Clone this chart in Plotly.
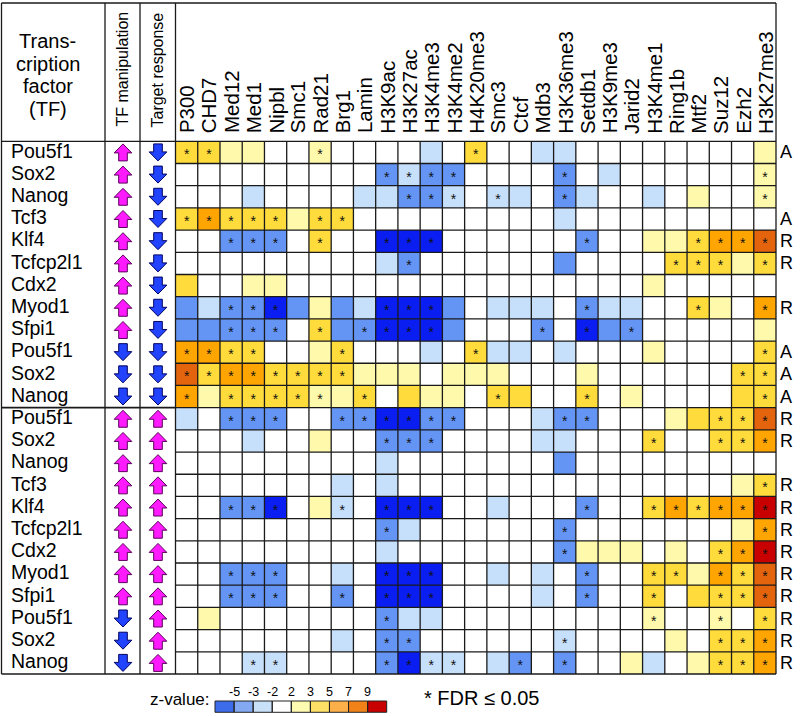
import plotly.graph_objects as go

W, H = 800, 716
FONT = "Liberation Sans, Arial, sans-serif"

# ---------------- data ----------------
columns = ["P300", "CHD7", "Med12", "Med1", "Nipbl", "Smc1", "Rad21", "Brg1", "Lamin",
           "H3K9ac", "H3K27ac", "H3K4me3", "H3K4me2", "H4K20me3", "Smc3", "Ctcf", "Mdb3",
           "H3K36me3", "Setdb1", "H3K9me3", "Jarid2", "H3K4me1", "Ring1b", "Mtf2",
           "Suz12", "Ezh2", "H3K27me3"]

tf_names = ["Pou5f1", "Sox2", "Nanog", "Tcf3", "Klf4", "Tcfcp2l1", "Cdx2", "Myod1", "Sfpi1",
            "Pou5f1", "Sox2", "Nanog",
            "Pou5f1", "Sox2", "Nanog", "Tcf3", "Klf4", "Tcfcp2l1", "Cdx2", "Myod1", "Sfpi1",
            "Pou5f1", "Sox2", "Nanog"]

tf_manipulation = ["up", "up", "up", "up", "up", "up", "up", "up", "up",
                   "down", "down", "down",
                   "up", "up", "up", "up", "up", "up", "up", "up", "up",
                   "down", "down", "down"]

target_response = ["down"] * 12 + ["up"] * 12

row_class = ["A", "", "", "A", "R", "R", "", "R", "", "A", "A", "A",
             "R", "R", "", "R", "R", "R", "R", "R", "R", "R", "R", "R"]

# z-value bin of each cell: -3 (<=-5), -2, -1, 0 (white), 1, 2, 3, 4, 5 (>=9)
z_level = [
    [2, 2, 1, 1, 0, 0, 1, 0, 0, 0, 0, -1, 0, 2, 0, 0, -1, -1, 0, 0, 0, 0, 0, 0, 0, 0, 1],
    [0, 0, 0, 0, 0, 0, 0, 0, 0, -2, -1, -2, -2, 0, 0, 0, 0, -2, 0, -1, 0, 0, 0, 0, 0, 0, 1],
    [0, 0, 0, -1, 0, 0, 0, 0, -1, -1, -2, -2, -1, 0, -1, -1, 0, -2, -1, 0, 0, -1, 0, 1, 0, 0, 1],
    [2, 3, 2, 2, 2, 1, 2, 2, 0, 0, 0, 0, 0, 0, 0, 0, 0, -1, 0, 0, 0, 0, 0, 0, 0, 0, 0],
    [0, 0, -2, -2, -2, 0, 2, 0, 0, -3, -3, -3, 0, 0, 0, 0, 0, 0, -2, 0, 0, 1, 1, 2, 3, 3, 4],
    [0, 0, 0, 0, 0, 0, 0, 0, 0, -1, -2, 0, 0, 0, 0, 0, 0, -2, 0, 0, 0, 0, 2, 2, 2, 1, 2],
    [2, 0, 0, 1, 1, 0, 0, 0, 0, 0, 0, 0, 0, 0, 0, 0, 0, 0, 0, 0, 0, 1, 0, 0, 0, 0, 0],
    [-2, -1, -2, -2, -3, -2, 1, -2, -1, -3, -3, -3, -2, 0, -1, -1, -1, 0, -2, -1, -1, 0, 0, 2, 1, 0, 3],
    [-2, -2, -2, -2, -2, 0, 2, -2, -2, -3, -3, -3, -2, 0, 0, 0, -2, 0, -3, -2, -2, 0, 0, 0, 0, 0, 1],
    [3, 3, 2, 2, 0, 0, 1, 2, 0, 0, 0, -1, 0, 2, -1, -1, 0, -1, 0, 0, 0, 1, 0, 0, 0, 0, 2],
    [4, 2, 3, 3, 2, 2, 2, 2, 1, 1, 1, 0, 1, 1, 1, 0, 0, 0, 1, 0, 0, 0, 0, 0, 0, 2, 2],
    [3, 1, 2, 2, 2, 2, 1, 1, 2, 0, 2, 1, 1, 0, 2, 2, 0, 0, 2, 0, 1, 0, 0, 0, 0, 2, 2],
    [-1, 0, -2, -2, -2, 0, 0, -2, -2, -3, -3, -2, -2, 0, 0, 0, -1, -2, -2, 0, 0, 0, 1, 2, 2, 2, 4],
    [0, 0, 0, -1, 0, 0, 1, 0, 0, -2, -2, -2, 0, 0, 0, 0, -1, -1, 0, 0, 0, 2, 0, 0, 2, 2, 3],
    [0, 0, 0, 0, 0, 0, 0, 0, 0, -1, 0, 0, 0, 0, 0, 0, 0, -2, 0, 0, 0, 0, 0, 0, 0, 0, 0],
    [0, 0, 0, 0, 0, 0, 0, -1, 0, -1, 0, 0, 0, 0, 0, 0, 0, 0, 0, 0, 0, 0, 0, 0, 0, 1, 2],
    [0, 0, -2, -2, -3, 0, 1, -1, 0, -3, -3, -3, 0, 0, -1, 0, 0, 0, -2, 0, 0, 2, 3, 2, 3, 3, 5],
    [0, 0, 0, 0, 0, 0, 0, 0, 0, -2, -1, 0, 0, 0, 0, 0, 0, -2, 0, 0, 0, 0, 0, 0, 0, 1, 3],
    [0, 0, 0, 0, 0, 0, 0, 0, 0, -1, 0, 0, 0, 0, 0, 0, 0, -2, 1, 1, 1, 0, 1, 0, 2, 3, 5],
    [0, 0, -2, -2, -2, 0, 0, -1, 0, -3, -3, -3, 0, 0, -1, 0, -1, 0, -2, 0, 0, 2, 2, 1, 3, 2, 4],
    [0, 0, -2, -2, -2, 0, 0, -2, 0, -3, -3, -3, 0, 0, 0, 0, -1, 0, -2, 0, 0, 2, 0, 2, 2, 2, 4],
    [0, 1, 0, 0, 0, 0, 0, 0, 0, -2, -1, -1, 0, 0, 0, 0, 0, 0, 0, 0, 0, 1, 0, 0, 1, 0, 2],
    [0, 0, 0, 0, 0, 0, 0, -1, 0, -2, -2, 0, 0, 0, 0, 0, 0, -1, 0, 0, 0, 0, 1, 0, 2, 2, 3],
    [0, 0, 0, -1, -1, 0, 0, 0, 0, -2, -3, -1, -1, 0, -1, -2, 0, -2, 0, 0, 1, -1, 0, 1, 2, 2, 3],
]

# columns (1-based) with FDR <= 0.05 in each row
fdr_sig = [
    [1, 2, 7, 14],
    [10, 11, 12, 13, 18, 27],
    [11, 12, 13, 15, 18, 27],
    [1, 2, 3, 4, 5, 7, 8],
    [3, 4, 5, 7, 10, 11, 12, 19, 24, 25, 26, 27],
    [11, 23, 24, 25, 27],
    [],
    [3, 4, 5, 10, 11, 12, 19, 24, 27],
    [3, 4, 5, 7, 9, 10, 11, 12, 17, 19, 21],
    [1, 2, 3, 4, 8, 14, 27],
    [1, 2, 3, 4, 5, 6, 7, 8, 26, 27],
    [1, 3, 4, 5, 6, 7, 9, 15, 19, 27],
    [3, 4, 5, 8, 9, 10, 11, 12, 13, 18, 19, 25, 26, 27],
    [10, 11, 12, 22, 25, 26, 27],
    [],
    [27],
    [3, 4, 5, 8, 10, 11, 12, 19, 22, 23, 24, 25, 26, 27],
    [10, 18, 27],
    [18, 25, 26, 27],
    [3, 4, 5, 10, 11, 12, 19, 22, 23, 25, 26, 27],
    [3, 4, 5, 8, 10, 11, 12, 19, 22, 25, 26, 27],
    [10, 22, 25, 27],
    [10, 11, 18, 25, 26, 27],
    [4, 5, 10, 11, 12, 13, 16, 18, 25, 26, 27],
]

level_values = [-3, -2, -1, 0, 1, 2, 3, 4, 5]
level_colors = ["#0a1ef2", "#6495f5", "#c6dffa", "#ffffff", "#fffaab",
                "#ffdc3c", "#ffa502", "#e3640c", "#c80000"]
legend_colors = ["#3d6cea", "#82a9f1", "#c8e0f8", "#ffffff", "#fffbb0",
                 "#fee066", "#fdb04a", "#f08218", "#c80000"]
legend_ticks = ["-5", "-3", "-2", "2", "3", "5", "7", "9"]

# ---------------- geometry (pixels) ----------------
HM_L, HM_R, HM_T, HM_B = 175.5, 776.0, 141.3, 674.0
TOP, LEFT = 3.0, 1.5
COL_SEP = [105.0, 140.0]
nrows, ncols = len(tf_names), len(columns)
row_px = (HM_B - HM_T) / nrows


def fx(p):
    return p / W


def fy(p):
    return 1 - p / H


def stepped_scale(colors):
    n = len(colors)
    sc = []
    for i, c in enumerate(colors):
        sc.append([i / n, c])
        sc.append([(i + 1) / n, c])
    return sc


fig = go.Figure()

# main heatmap
fig.add_trace(go.Heatmap(
    z=z_level, x=list(range(ncols)), y=list(range(nrows)),
    zmin=level_values[0] - 0.5, zmax=level_values[-1] + 0.5,
    colorscale=stepped_scale(level_colors), showscale=False, hoverinfo="skip",
    xaxis="x", yaxis="y"))

# significance stars
sx, sy = [], []
star_shift = 3.5 / row_px
for r, cols in enumerate(fdr_sig):
    for c in cols:
        sx.append(c - 1)
        sy.append(r + star_shift)
fig.add_trace(go.Scatter(
    x=sx, y=sy, mode="text", text=["*"] * len(sx), textposition="middle center",
    textfont=dict(family=FONT, size=14, color="#111111"),
    hoverinfo="skip", showlegend=False, xaxis="x", yaxis="y"))


# arrows in the left table (x2 axis in pixel units, y shared with the heatmap rows)
def arrow_poly(cx, r, direction):
    hw, sw, top, mid, bot = 8.8, 4.3, 8.5, 0.5, 8.5
    pts = [(0, -top), (hw, mid), (sw, mid), (sw, bot), (-sw, bot), (-sw, mid), (-hw, mid), (0, -top)]
    s = 1 if direction == "up" else -1
    xs = [cx + dx for dx, dy in pts]
    ys = [r + s * dy / row_px for dx, dy in pts]
    return xs, ys


arrow_style = {"up": ("#ff1aff", "#5a005a"), "down": ("#2244ff", "#000060")}
for direction in ["up", "down"]:
    ax_, ay_ = [], []
    for cx, lst in [(123.0, tf_manipulation), (158.0, target_response)]:
        for r, d in enumerate(lst):
            if d == direction:
                xs, ys = arrow_poly(cx, r, d)
                ax_ += xs + [None]
                ay_ += ys + [None]
    fig.add_trace(go.Scatter(
        x=ax_, y=ay_, mode="lines", fill="toself",
        fillcolor=arrow_style[direction][0],
        line=dict(color=arrow_style[direction][1], width=1),
        hoverinfo="skip", showlegend=False, xaxis="x2", yaxis="y"))

# legend colour boxes
fig.add_trace(go.Heatmap(
    z=[level_values], x=list(range(len(level_values))), y=[0],
    zmin=level_values[0] - 0.5, zmax=level_values[-1] + 0.5,
    colorscale=stepped_scale(legend_colors), showscale=False, hoverinfo="skip",
    xaxis="x3", yaxis="y3"))

LG_L, LG_R, LG_T, LG_B = 215.0, 386.7, 701.0, 712.3

fig.update_layout(
    width=W, height=H, margin=dict(l=0, r=0, t=0, b=0),
    paper_bgcolor="white", plot_bgcolor="white", showlegend=False,
    xaxis=dict(domain=[fx(HM_L), fx(HM_R)], range=[-0.5, ncols - 0.5], visible=False, fixedrange=True),
    yaxis=dict(domain=[fy(HM_B), fy(HM_T)], range=[nrows - 0.5, -0.5], visible=False, fixedrange=True),
    xaxis2=dict(domain=[0, fx(HM_L)], range=[0, HM_L], visible=False, anchor="y", fixedrange=True),
    xaxis3=dict(domain=[fx(LG_L), fx(LG_R)], range=[-0.5, len(level_values) - 0.5], visible=False,
                anchor="y3", fixedrange=True),
    yaxis3=dict(domain=[fy(LG_B), fy(LG_T)], range=[-0.5, 0.5], visible=False, anchor="x3",
                fixedrange=True),
)

shapes = []
LINE = dict(color="#1a1a1a", width=1.3)
# heatmap interior grid
for c in range(1, ncols):
    shapes.append(dict(type="line", xref="x", yref="y", x0=c - 0.5, x1=c - 0.5,
                       y0=-0.5, y1=nrows - 0.5, line=LINE))
for r in range(1, nrows):
    shapes.append(dict(type="line", xref="x", yref="y", y0=r - 0.5, y1=r - 0.5,
                       x0=-0.5, x1=ncols - 0.5, line=LINE))


def pline(x0, y0, x1, y1, width=1.3, color="#1a1a1a"):
    shapes.append(dict(type="line", xref="paper", yref="paper",
                       x0=fx(x0), y0=fy(y0), x1=fx(x1), y1=fy(y1),
                       line=dict(color=color, width=width)))


pline(LEFT, TOP, HM_R, TOP)            # top frame
pline(LEFT, TOP, LEFT, HM_B)           # left frame
pline(HM_R, TOP, HM_R, HM_B)           # right frame
pline(LEFT, HM_B, HM_R, HM_B)          # bottom frame
pline(LEFT, HM_T, HM_R, HM_T)          # header separator
for xs_ in COL_SEP + [HM_L]:
    pline(xs_, TOP, xs_, HM_B)
sep_y = HM_T + 12 * row_px
pline(LEFT, sep_y, HM_L, sep_y, width=1.6)

# legend box outlines
nlev = len(level_values)
for k in range(nlev):
    x0 = LG_L + k * (LG_R - LG_L) / nlev
    x1 = LG_L + (k + 1) * (LG_R - LG_L) / nlev
    shapes.append(dict(type="rect", xref="paper", yref="paper",
                       x0=fx(x0), x1=fx(x1), y0=fy(LG_B), y1=fy(LG_T),
                       line=dict(color="#222222", width=1)))

annotations = []
# column labels
for i, name in enumerate(columns):
    annotations.append(dict(text=name, xref="x", yref="paper", x=i, y=fy(135.5),
                            xanchor="center", yanchor="bottom", textangle=-90,
                            showarrow=False, font=dict(family=FONT, size=20.5, color="black")))
# row labels
for r, name in enumerate(tf_names):
    annotations.append(dict(text=name, xref="x2", yref="y", x=9, y=r - 0.08,
                            xanchor="left", yanchor="middle", showarrow=False,
                            font=dict(family=FONT, size=19.5, color="black")))
# activator / repressor labels
for r, lab in enumerate(row_class):
    if lab:
        annotations.append(dict(text=lab, xref="paper", yref="y", x=fx(786), y=r,
                                xanchor="center", yanchor="middle", showarrow=False,
                                font=dict(family=FONT, size=18, color="black")))
# header texts
for txt, yb in [("Trans-", 48.5), ("cription", 71), ("factor", 93.5), ("(TF)", 116)]:
    annotations.append(dict(text=txt, xref="paper", yref="paper", x=fx(47.5), y=fy(yb - 7),
                            xanchor="center", yanchor="middle", showarrow=False,
                            font=dict(family=FONT, size=20, color="black")))
annotations.append(dict(text="TF manipulation", xref="paper", yref="paper", x=fx(122), y=fy(129),
                        xanchor="center", yanchor="bottom", textangle=-90, showarrow=False,
                        font=dict(family=FONT, size=16, color="black")))
annotations.append(dict(text="Target response", xref="paper", yref="paper", x=fx(157), y=fy(130),
                        xanchor="center", yanchor="bottom", textangle=-90, showarrow=False,
                        font=dict(family=FONT, size=16, color="black")))
# legend texts
annotations.append(dict(text="z-value:", xref="paper", yref="paper", x=fx(212), y=fy(699),
                        xanchor="right", yanchor="middle", showarrow=False,
                        font=dict(family=FONT, size=17, color="black")))
for k, t in enumerate(legend_ticks):
    annotations.append(dict(text=t, xref="x3", yref="paper", x=k + 0.5, y=fy(691.5),
                            xanchor="center", yanchor="middle", showarrow=False,
                            font=dict(family=FONT, size=12.5, color="black")))
annotations.append(dict(text="* FDR \u2264 0.05", xref="paper", yref="paper", x=fx(422), y=fy(698),
                        xanchor="left", yanchor="middle", showarrow=False,
                        font=dict(family=FONT, size=20, color="black")))

fig.update_layout(shapes=shapes, annotations=annotations)
# no modebar; remove the default page margin so the figure fills the 800x716 window exactly
fig.write_html("out.html", config={"displayModeBar": False},
               post_script="document.body.style.margin='0px';")
